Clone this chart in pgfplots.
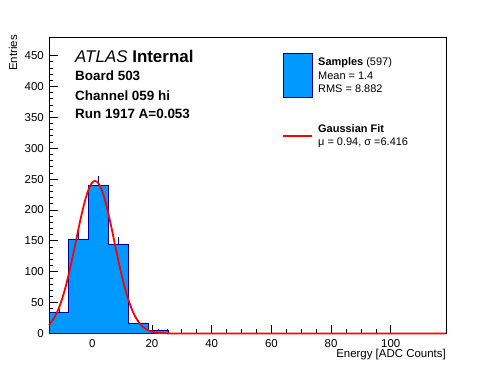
\documentclass[border=0pt]{standalone}
\usepackage{pgfplots}
\pgfplotsset{compat=1.18}
\usepackage{fontspec}
\setmainfont{Liberation Sans}
\definecolor{histfill}{RGB}{0,153,255}
\definecolor{histline}{RGB}{0,0,150}
\pgfplotsset{
  layers/fitontop/.define layer set={
    axis background,axis grid,axis ticks,axis lines,axis tick labels,
    pre main,main,axis descriptions,axis foreground
  }{/pgfplots/layers/standard},
}
\begin{document}
\begin{tikzpicture}
\begin{axis}[
  at={(0,0)}, anchor=south west,
  set layers=fitontop,
  scale only axis, width=397bp, height=296.5bp,
  xmin=-14.5, xmax=118.5, ymin=0, ymax=480,
  axis line style={line width=0.8bp},
  tick pos=left, tick align=inside,
  xtick={0,20,40,60,80,100}, minor x tick num=3,
  ytick={0,50,100,150,200,250,300,350,400,450}, minor y tick num=4,
  major tick length=8.5bp, minor tick length=4bp,
  tick style={black, line width=0.7bp},
  /pgf/number format/assume math mode=true,
  ticklabel style={font=\fontsize{11.5}{11.5}\selectfont, inner sep=0pt},
  xticklabel style={anchor=base, yshift=-13.5bp},
  yticklabel style={anchor=east, xshift=-5bp},
  clip=false,
]
\addplot[const plot, fill=histfill, draw=histline, line width=0.8bp] coordinates {
(-14.5,34) (-7.85,153) (-1.2,240) (5.45,144) (12.1,17) (18.75,5) (25.4,0) (118.5,0)
} \closedcycle;
\addplot[draw=none, mark=none,
  error bars/.cd, y dir=plus, y explicit, error mark=none,
  error bar style={line width=0.8bp, histline}] coordinates {
(-11.175,34) +- (0,5.83)
(-4.525,153) +- (0,12.37)
(2.125,240) +- (0,15.49)
(8.775,144) +- (0,12.0)
(15.425,17) +- (0,4.12)
(22.075,5) +- (0,2.24)
};
\addplot[color=red, line width=1.8bp, smooth, mark=none] coordinates {
(-14.5,13.6) (-13,23.3) (-12,32.3) (-11,43.7) (-10,57.7) (-9,74.4) (-8,93.6)
(-7,114.9) (-6,137.6) (-5,160.9) (-4,183.6) (-3,204.5) (-2,222.4) (-1,236.0)
(0,244.4) (0.94,247.0) (2,243.6) (3,234.6) (4,220.4) (5,202.2) (6,181.0)
(7,158.1) (8,134.8) (9,112.2) (10,91.1) (11,72.2) (12,55.9) (13,42.2)
(14,31.1) (15,22.4) (16,15.7) (17,10.8) (18,7.2) (19,4.7) (20,3.0)
(22,1.1) (24,0.4) (27,0.06) (30,0) (40,0) (60,0) (80,0) (100,0) (118.5,0)
};
\end{axis}
\path (-49bp,-38.5bp) rectangle (447bp,333.5bp);
% axis titles
\node[rotate=90, anchor=base east, inner sep=0pt, font=\fontsize{11.5}{11.5}\selectfont] at (-32bp,298.5bp) {Entries};
\node[anchor=base east, inner sep=0pt, font=\fontsize{11.5}{11.5}\selectfont] at (397bp,-23.5bp) {Energy [ADC Counts]};
% ATLAS label
\node[anchor=base west, inner sep=0pt, font=\fontsize{17}{17}\selectfont] at (26bp,270.5bp) {\textit{ATLAS} \textbf{Internal}};
\node[anchor=base west, inner sep=0pt, font=\fontsize{13.5}{13.5}\selectfont\bfseries] at (26bp,252.5bp) {Board 503};
\node[anchor=base west, inner sep=0pt, font=\fontsize{13.5}{13.5}\selectfont\bfseries] at (26bp,233bp) {Channel 059 hi};
\node[anchor=base west, inner sep=0pt, font=\fontsize{13.5}{13.5}\selectfont\bfseries] at (26bp,214.5bp) {Run 1917 A=0.053};
% legend
\filldraw[fill=histfill, draw=histline, line width=0.8bp] (234bp,236.5bp) rectangle (263bp,280.5bp);
\node[anchor=base west, inner sep=0pt, font=\fontsize{11}{11}\selectfont] at (269bp,267.5bp) {\textbf{Samples} (597)};
\node[anchor=base west, inner sep=0pt, font=\fontsize{11}{11}\selectfont] at (269bp,253.5bp) {Mean = 1.4};
\node[anchor=base west, inner sep=0pt, font=\fontsize{11}{11}\selectfont] at (269bp,240.5bp) {RMS = 8.882};
\draw[red, line width=1.8bp] (234bp,197.5bp) -- (263bp,197.5bp);
\node[anchor=base west, inner sep=0pt, font=\fontsize{11}{11}\selectfont] at (269bp,200.5bp) {\textbf{Gaussian Fit}};
\node[anchor=base west, inner sep=0pt, font=\fontsize{11}{11}\selectfont] at (269bp,187.5bp) {μ = 0.94, σ =6.416};
\end{tikzpicture}
\end{document}
